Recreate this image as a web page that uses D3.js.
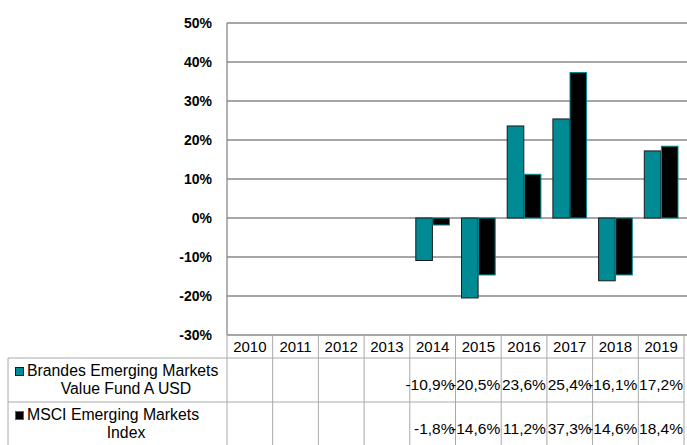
<!DOCTYPE html>
<html>
<head>
<meta charset="utf-8">
<script src="https://cdn.jsdelivr.net/npm/d3@7"></script>
<style>
  body { margin: 0; background: #fff; }
  svg { display: block; font-family: "Liberation Sans", Arial, sans-serif; }
</style>
</head>
<body>
<svg width="687" height="445"></svg>
<script>
// data
var years = ["2010", "2011", "2012", "2013", "2014", "2015", "2016", "2017", "2018", "2019"];
var fundValues = [null, null, null, null, -10.9, -20.5, 23.6, 25.4, -16.1, 17.2];
var indexValues = [null, null, null, null, -1.8, -14.6, 11.2, 37.3, -14.6, 18.4];
var seriesNames = [["Brandes Emerging Markets", "Value Fund A USD"], ["MSCI Emerging Markets", "Index"]];
var yTicks = [50, 40, 30, 20, 10, 0, -10, -20, -30];

var svg = d3.select("svg");
var teal = "#008b94";
var gridColor = "#888888";
var tableColor = "#a8a8a8";

var plot = {left: 227, right: 684, top: 23, bottom: 335};

var x = d3.scaleBand().domain(years).range([plot.left, plot.right]).padding(0);
var y = d3.scaleLinear().domain([-30, 50]).range([plot.bottom, plot.top]);
// position of the two bars inside each year column
var xs = d3.scaleBand().domain([0, 1]).range([6, x.bandwidth() - 6]).paddingInner(0.03);

var series = [
  {name: seriesNames[0], values: fundValues, fill: teal, stroke: "#1a1a1a"},
  {name: seriesNames[1], values: indexValues, fill: "#000", stroke: teal}
];

// gridlines
svg.append("g")
  .selectAll("line")
  .data(yTicks)
  .enter().append("line")
  .attr("x1", plot.left).attr("x2", 687)
  .attr("y1", function(d) { return y(d); })
  .attr("y2", function(d) { return y(d); })
  .attr("stroke", gridColor)
  .attr("stroke-width", 1.3);

// y axis line
svg.append("line")
  .attr("x1", plot.left).attr("x2", plot.left)
  .attr("y1", plot.top).attr("y2", plot.bottom)
  .attr("stroke", gridColor)
  .attr("stroke-width", 1.3);

// y labels
svg.append("g")
  .selectAll("text")
  .data(yTicks)
  .enter().append("text")
  .attr("x", 212)
  .attr("y", function(d) { return y(d) + 5; })
  .attr("text-anchor", "end")
  .style("font-size", "14px")
  .style("font-weight", "bold")
  .text(function(d) { return d + "%"; });

// bars
series.forEach(function(s, si) {
  svg.append("g")
    .selectAll("rect")
    .data(s.values.map(function(v, i) { return {year: years[i], v: v}; }).filter(function(d) { return d.v !== null; }))
    .enter().append("rect")
    .attr("x", function(d) { return x(d.year) + xs(si); })
    .attr("width", xs.bandwidth())
    .attr("y", function(d) { return y(Math.max(0, d.v)); })
    .attr("height", function(d) { return Math.abs(y(d.v) - y(0)); })
    .attr("fill", s.fill)
    .attr("stroke", s.stroke)
    .attr("stroke-width", 1);
});

// table
var tLeft = 8, headTop = plot.bottom, headBottom = 358, rowMid = 402, tBottom = 445;
var table = svg.append("g").attr("stroke", tableColor).attr("stroke-width", 1);

// vertical lines of year columns
years.concat(["end"]).forEach(function(yr, i) {
  var xx = i < years.length ? x(yr) : plot.right;
  table.append("line")
    .attr("x1", xx).attr("x2", xx)
    .attr("y1", headTop).attr("y2", tBottom);
});
table.append("line").attr("x1", tLeft).attr("x2", tLeft).attr("y1", headBottom).attr("y2", tBottom);
table.append("line").attr("x1", tLeft).attr("x2", plot.right).attr("y1", headBottom).attr("y2", headBottom);
table.append("line").attr("x1", tLeft).attr("x2", plot.right).attr("y1", rowMid).attr("y2", rowMid);

// year header
svg.append("g")
  .selectAll("text")
  .data(years)
  .enter().append("text")
  .attr("x", function(d) { return x(d) + x.bandwidth() / 2; })
  .attr("y", 352)
  .attr("text-anchor", "middle")
  .style("font-size", "15px")
  .text(function(d) { return d; });

var fmt = function(v) { return v.toFixed(1).replace(".", ",") + "%"; };
var rowTops = [headBottom, rowMid];

series.forEach(function(s, si) {
  var r = rowTops[si];
  // swatch
  svg.append("rect")
    .attr("x", 15.5).attr("y", r + 9.5)
    .attr("width", 8).attr("height", 8)
    .attr("fill", s.fill)
    .attr("stroke", s.stroke);
  svg.append("text")
    .attr("x", 27).attr("y", r + 18)
    .style("font-size", "15.8px")
    .text(s.name[0]);
  svg.append("text")
    .attr("x", 126).attr("y", r + 36)
    .attr("text-anchor", "middle")
    .style("font-size", "15.8px")
    .text(s.name[1]);
  // values
  svg.append("g")
    .selectAll("text")
    .data(s.values.map(function(v, i) { return {year: years[i], v: v}; }).filter(function(d) { return d.v !== null; }))
    .enter().append("text")
    .attr("x", function(d) { return x(d.year) + x.bandwidth() - 1; })
    .attr("y", r + 32)
    .attr("text-anchor", "end")
    .style("font-size", "15.5px")
    .text(function(d) { return fmt(d.v); });
});
</script>
</body>
</html>
